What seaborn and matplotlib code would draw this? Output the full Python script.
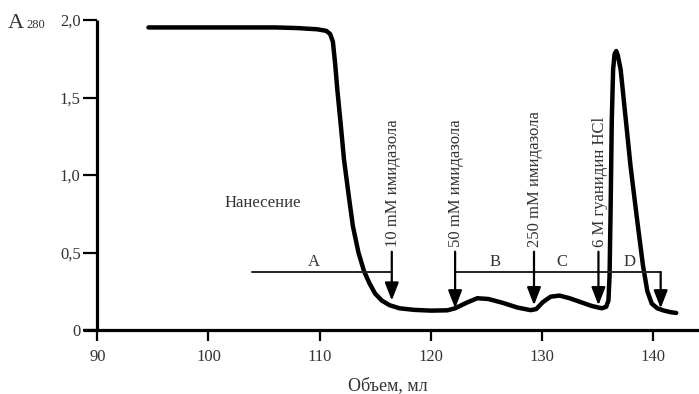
import matplotlib
matplotlib.use("Agg")
import matplotlib.pyplot as plt
import seaborn as sns
import pandas as pd

# ---- data ----
volume = [94.6, 100.0, 106.0, 108.0, 109.8, 110.6, 110.95, 111.2, 111.4, 111.6,
          111.9, 112.2, 112.6, 113.0, 113.5, 114.0, 114.5, 115.0, 115.6, 116.3,
          117.2, 118.5, 120.0, 121.5, 122.2, 123.2, 124.2, 125.2, 126.5, 127.8,
          129.0, 129.5, 130.1, 130.8, 131.6, 132.5, 133.5, 134.5, 135.4, 135.8,
          136.0, 136.1, 136.2, 136.3, 136.42, 136.55, 136.7, 136.85, 137.1, 137.5,
          138.0, 138.6, 139.1, 139.5, 139.9, 140.4, 141.0, 141.6, 142.1]
a280 = [1.952, 1.952, 1.952, 1.948, 1.94, 1.93, 1.91, 1.86, 1.72, 1.55,
        1.33, 1.10, 0.88, 0.67, 0.50, 0.38, 0.30, 0.235, 0.19, 0.16,
        0.14, 0.13, 0.125, 0.127, 0.14, 0.175, 0.205, 0.20, 0.175, 0.145,
        0.128, 0.135, 0.18, 0.215, 0.222, 0.205, 0.18, 0.155, 0.14, 0.15,
        0.19, 0.35, 0.80, 1.35, 1.68, 1.78, 1.80, 1.77, 1.68, 1.40,
        1.05, 0.70, 0.42, 0.25, 0.17, 0.14, 0.125, 0.115, 0.11]

reagent_x = [116.5, 122.2, 129.3, 135.1]
reagent_labels = ["10 mM имидазола", "50 mM имидазола",
                  "250 mM имидазола", "6 M гуанидин HCl"]
reagent_tip = [0.19, 0.14, 0.16, 0.16]
reagent_top = 0.505

fraction_labels = ["A", "B", "C", "D"]
fraction_x = [109.45, 125.8, 131.8, 137.9]
fraction_line_y = 0.372
load_start = 103.9
d_end = 140.7
d_tip = 0.14
load_label = "Нанесение"
load_label_xy = (104.9, 0.817)

x_ticks = [90, 100, 110, 120, 130, 140]
y_ticks = [0, 0.5, 1.0, 1.5, 2.0]
y_tick_labels = ["0", "0,5", "1,0", "1,5", "2,0"]
x_label = "Объем, мл"

# ---- figure ----
sns.set_theme(style="white")
plt.rcParams["font.family"] = ["Liberation Serif", "DejaVu Serif"]

W, H = 699, 394
fig = plt.figure(figsize=(W / 100, H / 100), dpi=100)
ax = fig.add_axes([83 / W, (H - 330) / H, (W - 83) / W, (330 - 20) / H])

df = pd.DataFrame({"volume": volume, "a280": a280})
sns.lineplot(data=df, x="volume", y="a280", sort=False, estimator=None,
             color="black", linewidth=3.2, ax=ax)
for ln in ax.lines:
    ln.set_solid_joinstyle("round")
    ln.set_solid_capstyle("round")

ax.set_xlim(88.71, 144.15)
ax.set_ylim(0, 2.0)

for s in ["top", "right"]:
    ax.spines[s].set_visible(False)
ax.spines["left"].set_position(("data", 90))
for s in ["left", "bottom"]:
    ax.spines[s].set_linewidth(2.3)
    ax.spines[s].set_color("black")
    ax.spines[s].set_capstyle("butt")

ax.set_xticks(x_ticks)
ax.set_xticklabels([str(t) for t in x_ticks])
ax.set_yticks(y_ticks)
ax.set_yticklabels(y_tick_labels)
ax.tick_params(axis="x", direction="out", length=8, width=1.6, pad=6,
               labelsize=12, colors="black", bottom=True)
ax.tick_params(axis="y", direction="out", length=10, width=1.6, pad=2,
               labelsize=12, colors="black", left=True)
for lab in ax.get_xticklabels() + ax.get_yticklabels():
    lab.set_color("#333333")

ax.set_xlabel("")
ax.set_ylabel("")
fig.text(388 / W, 1 - 386 / H, x_label, ha="center", va="center",
         fontsize=13, color="#333333")

# A280 label
fig.text(8 / W, 1 - 23 / H, "A", ha="left", va="center", fontsize=16,
         color="#333333")
fig.text(26 / W, 1 - 25 / H, "280", ha="left", va="center", fontsize=9,
         color="#333333")

# reagent arrows and labels
arrow_kw = dict(arrowstyle="-|>,head_length=0.9,head_width=0.35",
                color="black", lw=1.6, shrinkA=0, shrinkB=0)
for x, lab, tip in zip(reagent_x, reagent_labels, reagent_tip):
    ax.annotate("", xy=(x, tip), xytext=(x, reagent_top),
                arrowprops=arrow_kw)
    ax.text(x + 0.1, reagent_top + 0.03, lab, rotation=90, ha="center",
            va="bottom", fontsize=12, color="#333333")

# fraction lines
ax.plot([load_start, reagent_x[0]], [fraction_line_y, fraction_line_y],
        color="#222222", lw=1.4)
ax.plot([reagent_x[1], d_end], [fraction_line_y, fraction_line_y],
        color="#222222", lw=1.4)
ax.annotate("", xy=(d_end, d_tip), xytext=(d_end, fraction_line_y),
            arrowprops=arrow_kw)
for x, lab in zip(fraction_x, fraction_labels):
    ax.text(x, fraction_line_y + 0.015, lab, ha="center", va="bottom",
            fontsize=12, color="#333333")

ax.text(load_label_xy[0], load_label_xy[1], load_label, ha="center",
        va="center", fontsize=12, color="#333333")

fig.savefig("out.png", dpi=100)
